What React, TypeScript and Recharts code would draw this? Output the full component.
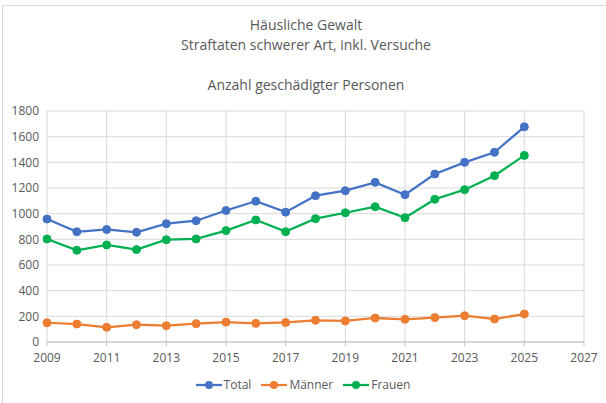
import React from "react";
import { LineChart, Line, XAxis, YAxis, CartesianGrid } from "recharts";

const years = [
  2009, 2010, 2011, 2012, 2013, 2014, 2015, 2016, 2017, 2018, 2019, 2020, 2021,
  2022, 2023, 2024, 2025,
];
const total = [
  958, 859, 877, 855, 922, 945, 1025, 1097, 1012, 1140, 1179, 1244, 1148, 1309,
  1400, 1478, 1677,
];
const maenner = [
  150, 140, 114, 135, 127, 143, 155, 145, 152, 169, 164, 187, 177, 190, 205, 179,
  218,
];
const frauen = [
  803, 715, 756, 720, 797, 803, 868, 951, 860, 961, 1007, 1054, 968, 1112, 1187,
  1296, 1454,
];
const xTicks = [2009, 2011, 2013, 2015, 2017, 2019, 2021, 2023, 2025, 2027];
const yTicks = [0, 200, 400, 600, 800, 1000, 1200, 1400, 1600, 1800];
const titleLines = [
  "Häusliche Gewalt",
  "Straftaten schwerer Art, inkl. Versuche",
  "",
  "Anzahl geschädigter Personen",
];

const series = [
  { key: "total", name: "Total", color: "#4472C4" },
  { key: "maenner", name: "Männer", color: "#ED7D31" },
  { key: "frauen", name: "Frauen", color: "#00B050" },
];

const data = years.map((year, i) => ({
  year,
  total: total[i],
  maenner: maenner[i],
  frauen: frauen[i],
}));

const FONT = "'Open Sans', 'Liberation Sans', sans-serif";
const TEXT = "#595959";

function ChartLegend() {
  return (
    <div
      style={{
        position: "absolute",
        left: 0,
        top: 376,
        width: 606,
        display: "flex",
        justifyContent: "center",
        gap: 10,
        fontFamily: FONT,
        fontSize: 12,
        color: TEXT,
      }}
    >
      {series.map((s) => (
        <div key={s.key} style={{ display: "flex", alignItems: "center" }}>
          <svg width={26} height={10} style={{ marginRight: 2 }}>
            <line x1={0} y1={5} x2={26} y2={5} stroke={s.color} strokeWidth={2.25} />
            <circle cx={13} cy={5} r={4} fill={s.color} />
          </svg>
          <span>{s.name}</span>
        </div>
      ))}
    </div>
  );
}

export default function App() {
  return (
    <div
      style={{
        position: "absolute",
        left: 0,
        top: 0,
        width: 606,
        height: 403,
        background: "#fff",
        overflow: "hidden",
      }}
    >
      <div
        style={{
          position: "absolute",
          left: 2,
          top: 5,
          width: 700,
          height: 500,
          borderLeft: "1px solid #d9d9d9",
          borderTop: "1px solid #d9d9d9",
        }}
      />
      <div
        style={{
          position: "absolute",
          left: 0,
          top: 15,
          width: 612,
          textAlign: "center",
          fontFamily: FONT,
          fontSize: 14,
          lineHeight: "20px",
          color: TEXT,
        }}
      >
        {titleLines.map((t, i) => (
          <div key={i} style={{ height: 20 }}>
            {t}
          </div>
        ))}
      </div>
      <LineChart
        width={606}
        height={403}
        data={data}
        margin={{ top: 111, right: 22, left: 0, bottom: 0 }}
        style={{ position: "absolute", left: 0, top: 0 }}
      >
        <CartesianGrid stroke="#d9d9d9" strokeWidth={1} />
        <XAxis
          dataKey="year"
          type="number"
          domain={[2009, 2027]}
          ticks={xTicks}
          interval={0}
          tick={{ fill: TEXT, fontSize: 12, fontFamily: FONT }}
          tickLine={{ stroke: "#bfbfbf" }}
          tickSize={4}
          tickMargin={7}
          axisLine={{ stroke: "#bfbfbf" }}
          height={61}
        />
        <YAxis
          domain={[0, 1800]}
          ticks={yTicks}
          interval={0}
          tick={{ fill: TEXT, fontSize: 12, fontFamily: FONT }}
          tickLine={false}
          axisLine={false}
          width={47}
        />
        {series.map((s) => (
          <Line
            key={s.key}
            type="linear"
            dataKey={s.key}
            name={s.name}
            stroke={s.color}
            strokeWidth={2.25}
            dot={{ r: 4, fill: s.color, stroke: s.color, strokeWidth: 1 }}
            isAnimationActive={false}
          />
        ))}
      </LineChart>
      <ChartLegend />
    </div>
  );
}
